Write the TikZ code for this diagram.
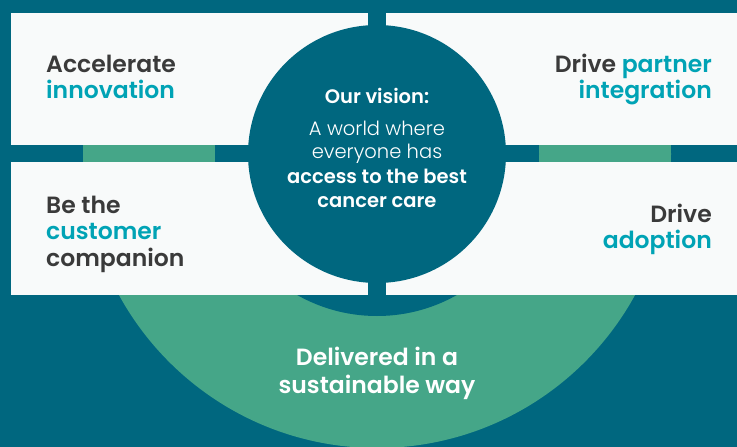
\documentclass[tikz,border=0pt]{standalone}
\usepackage{fontspec}
\setmainfont{Poppins}[BoldFont={Poppins SemiBold}]
\newfontfamily\lightfont{Poppins Light}
\definecolor{bgteal}{RGB}{0,103,127}
\definecolor{ringgreen}{RGB}{69,166,136}
\definecolor{boxwhite}{RGB}{248,250,250}
\definecolor{darktext}{RGB}{58,58,58}
\definecolor{cyantext}{RGB}{0,163,181}
\begin{document}
\begin{tikzpicture}[x=1pt,y=-1pt,
  box/.style={fill=boxwhite,draw=none},
  boxtxt/.style={inner sep=0pt,font=\bfseries\fontsize{23.5}{28}\selectfont},
  dark/.style={text=darktext},
  cyan/.style={text=cyantext},
  vistxt/.style={inner sep=0pt,text=white,anchor=base},
]
\useasboundingbox (0,0) rectangle (737,447);
\fill[bgteal] (0,0) rectangle (737,447);
\begin{scope}
\clip (0,140) rectangle (737,447);
\fill[ringgreen] (377,154) circle[radius=294];
\fill[bgteal] (377,154) circle[radius=162];
\end{scope}
% boxes
\fill[box] (11,13) rectangle (368,145);
\fill[box] (386,13) rectangle (737,145);
\fill[box] (11,162) rectangle (368,295);
\fill[box] (386,162) rectangle (737,295);
% centre circle
\node[circle,fill=bgteal,minimum size=258pt,inner sep=0pt] (vision) at (377,154) {};
% top-left
\node[boxtxt,dark,anchor=base west] (tl1) at (46,72) {Accelerate};
\node[boxtxt,cyan,anchor=base west] (tl2) at (46,98) {innovation};
% top-right
\node[boxtxt,anchor=base east] (tr1) at (712,72) {\textcolor{darktext}{Drive} \textcolor{cyantext}{partner}};
\node[boxtxt,cyan,anchor=base east] (tr2) at (712,98) {integration};
% bottom-left
\node[boxtxt,dark,anchor=base west] (bl1) at (46,213) {Be the};
\node[boxtxt,cyan,anchor=base west] (bl2) at (46,239) {customer};
\node[boxtxt,dark,anchor=base west] (bl3) at (46,266) {companion};
% bottom-right
\node[boxtxt,dark,anchor=base east] (br1) at (712,222) {Drive};
\node[boxtxt,cyan,anchor=base east] (br2) at (712,248) {adoption};
% vision text
\node[vistxt,font=\bfseries\fontsize{19.5}{23}\selectfont] (v1) at (377,103) {Our vision:};
\node[vistxt,font=\lightfont\fontsize{19.5}{23}\selectfont] (v2) at (377,135) {A world where};
\node[vistxt,font=\lightfont\fontsize{19.5}{23}\selectfont] (v3) at (377,158) {everyone has};
\node[vistxt,font=\bfseries\fontsize{19.5}{23}\selectfont] (v4) at (377,183) {access to the best};
\node[vistxt,font=\bfseries\fontsize{19.5}{23}\selectfont] (v5) at (377,207) {cancer care};
% bottom text
\node[vistxt,font=\bfseries\fontsize{23.5}{28}\selectfont] (s1) at (377,365) {Delivered in a};
\node[vistxt,font=\bfseries\fontsize{23.5}{28}\selectfont] (s2) at (377,393) {sustainable way};
\end{tikzpicture}
\end{document}
